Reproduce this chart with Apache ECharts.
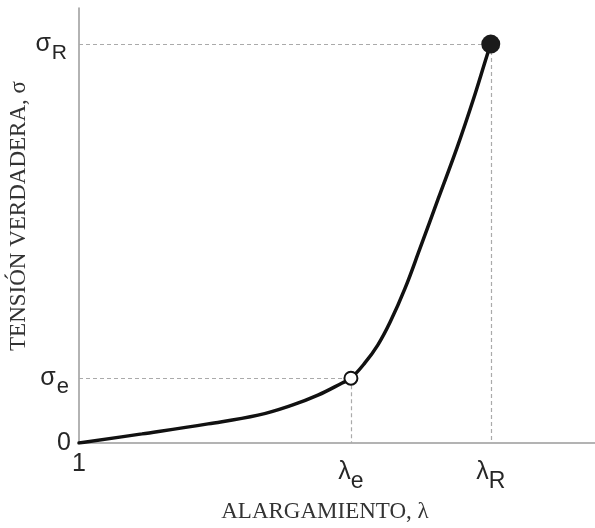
<!DOCTYPE html>
<html><head><meta charset="utf-8">
<script src="https://cdn.jsdelivr.net/npm/echarts@6/dist/echarts.min.js"></script>
<style>html,body{margin:0;padding:0;background:#fff}#c{width:595px;height:528px}</style>
</head><body><div id="c"></div>
<script>
// Curve (x: elongation scale 0..100, y: stress scale 0..100)
const curveX = [0, 12.2, 25.0, 34.7, 41.3, 46.3, 51.0, 52.7, 55.4, 57.9, 60.3, 63.2, 66.1, 69.6, 73.3, 76.4, 79.1, 79.8];
const curveY = [0, 2.1, 4.4, 6.4, 8.7, 11.0, 13.8, 14.9, 18.4, 22.5, 27.8, 35.6, 44.8, 56.1, 68.0, 78.9, 89.2, 91.7];
// Key points
const lambdaE = 52.7, sigmaE = 14.9;
const lambdaR = 79.8, sigmaR = 91.7;
// Tick labels
const xTickVals = [0, lambdaE, lambdaR];
const xTickLabels = ['{m|1}', '{m|λ}{s|e}', '{m|λ}{s|R}'];
const yTickVals = [0, sigmaE, sigmaR];
const yTickLabels = ['{m|0}', '{m|σ}{e|e}', '{m|σ}{r|R}'];
const xTitle = 'ALARGAMIENTO, λ';
const yTitle = 'TENSIÓN VERDADERA, σ';

const txt = '#262626';
const richX = {
  m: {fontFamily: 'Liberation Sans', fontSize: 25, color: txt},
  s: {fontFamily: 'Liberation Sans', fontSize: 23, color: txt, padding: [18, 0, 0, 0]}
};
const richY = {
  m: {fontFamily: 'Liberation Sans', fontSize: 25, color: txt, padding: [0, 1, 0, 0]},
  e: {fontFamily: 'Liberation Sans', fontSize: 22, color: txt, padding: [18, 3, 0, 0]},
  r: {fontFamily: 'Liberation Sans', fontSize: 21, color: txt, padding: [18, 5, 0, 0]}
};
function lab(vals, labels) {
  return function (v) {
    for (let i = 0; i < vals.length; i++) if (Math.abs(vals[i] - v) < 1e-6) return labels[i];
    return '';
  };
}
const chart = echarts.init(document.getElementById('c'));
const dash = {color: '#aaaaaa', width: 1.2, type: [4, 3]};
chart.setOption({
  animation: false,
  grid: {left: 79, top: 8, right: 0, bottom: 85},
  xAxis: {
    type: 'value', min: 0, max: 100,
    axisLine: {lineStyle: {color: '#9a9a9a', width: 1.5}},
    axisTick: {show: false}, splitLine: {show: false},
    axisLabel: {customValues: xTickVals, formatter: lab(xTickVals, xTickLabels), rich: richX, margin: 9}
  },
  yAxis: {
    type: 'value', min: 0, max: 100,
    axisLine: {show: true, lineStyle: {color: '#9a9a9a', width: 1.5}},
    axisTick: {show: false}, splitLine: {show: false},
    axisLabel: {customValues: yTickVals, formatter: lab(yTickVals, yTickLabels), rich: richY, margin: 7}
  },
  graphic: [
    {type: 'text', x: 325, y: 512, style: {text: xTitle, font: '23px "Liberation Serif"', fill: '#333', align: 'center', verticalAlign: 'middle'}},
    {type: 'text', x: 19, y: 216, rotation: Math.PI / 2, style: {text: yTitle, font: '23px "Liberation Serif"', fill: '#333', align: 'center', verticalAlign: 'middle'}}
  ],
  series: [
    {
      type: 'line', data: curveX.map((x, i) => [x, curveY[i]]),
      smooth: 0.4, symbol: 'none',
      lineStyle: {color: '#111', width: 3.5, cap: 'round'},
      markLine: {
        silent: true, symbol: 'none', label: {show: false}, lineStyle: dash,
        data: [
          [{coord: [0, sigmaE]}, {coord: [lambdaE, sigmaE]}],
          [{coord: [lambdaE, sigmaE]}, {coord: [lambdaE, 0]}],
          [{coord: [0, sigmaR]}, {coord: [lambdaR, sigmaR]}],
          [{coord: [lambdaR, sigmaR]}, {coord: [lambdaR, 0]}]
        ]
      },
      z: 3
    },
    {
      type: 'scatter', data: [[lambdaE, sigmaE]], symbol: 'circle', symbolSize: 13,
      itemStyle: {color: '#fff', borderColor: '#111', borderWidth: 2, opacity: 1}, z: 5
    },
    {
      type: 'scatter', data: [[lambdaR, sigmaR]], symbol: 'circle', symbolSize: 19,
      itemStyle: {color: '#1a1a1a', opacity: 1}, z: 5
    }
  ]
});
</script></body></html>
